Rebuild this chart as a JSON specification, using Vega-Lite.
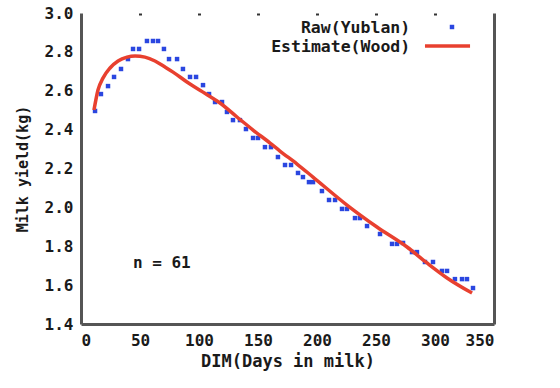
{
  "$schema": "https://vega.github.io/schema/vega-lite/v6.json",
  "width": 413,
  "height": 311,
  "autosize": {"type": "none"},
  "padding": {"left": 81, "top": 13, "right": 66, "bottom": 64},
  "background": "white",
  "config": {"view": {"stroke": null}, "font": "DejaVu Sans Mono"},
  "datasets": {
    "raw": [
      {"dim": 11.9, "yield": 2.496}, {"dim": 16.9, "yield": 2.583}, {"dim": 22.9, "yield": 2.624},
      {"dim": 28.0, "yield": 2.671}, {"dim": 33.9, "yield": 2.712}, {"dim": 39.8, "yield": 2.763},
      {"dim": 44.1, "yield": 2.815}, {"dim": 49.2, "yield": 2.815}, {"dim": 55.9, "yield": 2.856},
      {"dim": 61.0, "yield": 2.856}, {"dim": 65.3, "yield": 2.856}, {"dim": 70.3, "yield": 2.815},
      {"dim": 74.6, "yield": 2.763}, {"dim": 81.4, "yield": 2.763}, {"dim": 86.4, "yield": 2.712},
      {"dim": 92.4, "yield": 2.671}, {"dim": 97.5, "yield": 2.671}, {"dim": 103.4, "yield": 2.629},
      {"dim": 108.5, "yield": 2.583}, {"dim": 113.6, "yield": 2.542}, {"dim": 119.5, "yield": 2.542},
      {"dim": 123.7, "yield": 2.491}, {"dim": 128.8, "yield": 2.449}, {"dim": 134.7, "yield": 2.449},
      {"dim": 139.8, "yield": 2.403}, {"dim": 145.8, "yield": 2.357}, {"dim": 150.0, "yield": 2.357},
      {"dim": 155.9, "yield": 2.310}, {"dim": 161.0, "yield": 2.310}, {"dim": 166.9, "yield": 2.259},
      {"dim": 172.9, "yield": 2.218}, {"dim": 178.0, "yield": 2.218}, {"dim": 183.9, "yield": 2.177},
      {"dim": 188.1, "yield": 2.156}, {"dim": 193.2, "yield": 2.130}, {"dim": 196.6, "yield": 2.130},
      {"dim": 204.2, "yield": 2.084}, {"dim": 210.2, "yield": 2.038}, {"dim": 215.3, "yield": 2.038},
      {"dim": 221.2, "yield": 1.992}, {"dim": 225.4, "yield": 1.992}, {"dim": 232.2, "yield": 1.945},
      {"dim": 236.4, "yield": 1.945}, {"dim": 242.4, "yield": 1.904}, {"dim": 253.4, "yield": 1.863},
      {"dim": 263.6, "yield": 1.812}, {"dim": 267.8, "yield": 1.812}, {"dim": 272.9, "yield": 1.817},
      {"dim": 280.5, "yield": 1.770}, {"dim": 284.7, "yield": 1.770}, {"dim": 291.5, "yield": 1.719},
      {"dim": 298.3, "yield": 1.719}, {"dim": 305.9, "yield": 1.673}, {"dim": 310.2, "yield": 1.673},
      {"dim": 316.9, "yield": 1.631}, {"dim": 322.9, "yield": 1.631}, {"dim": 327.1, "yield": 1.631},
      {"dim": 332.2, "yield": 1.585}
    ],
    "wood": [
      {"dim": 11.0, "yield": 2.501}, {"dim": 14.4, "yield": 2.604}, {"dim": 18.6, "yield": 2.665},
      {"dim": 24.6, "yield": 2.717}, {"dim": 31.4, "yield": 2.753}, {"dim": 39.0, "yield": 2.773},
      {"dim": 45.8, "yield": 2.779}, {"dim": 54.2, "yield": 2.773}, {"dim": 62.7, "yield": 2.753},
      {"dim": 71.2, "yield": 2.722}, {"dim": 78.0, "yield": 2.696}, {"dim": 89.8, "yield": 2.645},
      {"dim": 103.4, "yield": 2.593}, {"dim": 117.8, "yield": 2.537}, {"dim": 132.2, "yield": 2.465},
      {"dim": 145.8, "yield": 2.398}, {"dim": 160.2, "yield": 2.331}, {"dim": 168.6, "yield": 2.290},
      {"dim": 183.1, "yield": 2.223}, {"dim": 196.6, "yield": 2.156}, {"dim": 225.4, "yield": 2.012},
      {"dim": 250.8, "yield": 1.899}, {"dim": 276.3, "yield": 1.796}, {"dim": 293.2, "yield": 1.714},
      {"dim": 310.2, "yield": 1.637}, {"dim": 331.4, "yield": 1.559}
    ]
  },
  "resolve": {"axis": {"x": "independent", "y": "independent"}},
  "layer": [
    {
      "data": {"name": "raw"},
      "mark": {"type": "square", "size": 20, "color": "#2a46e0", "opacity": 1},
      "encoding": {
        "x": {
          "field": "dim", "type": "quantitative",
          "scale": {"domain": [0, 350], "nice": false, "zero": false},
          "axis": {
            "orient": "bottom", "values": [0, 50, 100, 150, 200, 250, 300, 350],
            "labelFont": "DejaVu Sans Mono", "labelFontSize": 16, "labelFontWeight": "bold",
            "labelColor": "#1a1a1a", "labelPadding": 8, "ticks": false, "grid": false,
            "domainColor": "#555", "domainWidth": 3,
            "title": "DIM(Days in milk)", "titleFont": "DejaVu Sans Mono", "titleFontSize": 17,
            "titleFontWeight": "bold", "titleColor": "#1a1a1a", "titlePadding": 5
          }
        },
        "y": {
          "field": "yield", "type": "quantitative",
          "scale": {"domain": [1.4, 3.0], "nice": false, "zero": false},
          "axis": {
            "orient": "left", "values": [1.4, 1.6, 1.8, 2.0, 2.2, 2.4, 2.6, 2.8, 3.0], "format": ".1f",
            "labelFont": "DejaVu Sans Mono", "labelFontSize": 16, "labelFontWeight": "bold",
            "labelColor": "#1a1a1a", "labelPadding": 8, "ticks": false, "grid": false,
            "domainColor": "#555", "domainWidth": 3,
            "title": "Milk yield(kg)", "titleFont": "DejaVu Sans Mono", "titleFontSize": 15,
            "titleFontWeight": "bold", "titleColor": "#1a1a1a", "titlePadding": 14
          }
        }
      }
    },
    {
      "data": {"name": "wood"},
      "mark": {"type": "line", "color": "#e8402f", "strokeWidth": 3.5, "interpolate": "monotone"},
      "encoding": {
        "x": {
          "field": "dim", "type": "quantitative",
          "axis": {"orient": "top", "values": [50, 100, 150, 200, 250, 300], "labels": false,
                   "domain": false, "grid": false, "ticks": true, "tickSize": -2, "tickWidth": 3,
                   "tickColor": "#333", "title": null}
        },
        "y": {
          "field": "yield", "type": "quantitative",
          "axis": {"orient": "right", "labels": false, "ticks": false, "grid": false,
                   "domainColor": "#555", "domainWidth": 3, "title": null}
        }
      }
    },
    {
      "data": {"values": [{}]},
      "mark": {"type": "text", "align": "left", "baseline": "middle", "font": "DejaVu Sans Mono",
               "fontSize": 16, "fontWeight": "bold", "color": "#1a1a1a"},
      "encoding": {
        "x": {"datum": 44, "type": "quantitative", "axis": null},
        "y": {"datum": 1.714, "type": "quantitative", "axis": null},
        "text": {"value": "n = 61"}
      }
    },
    {
      "data": {"values": [{}]},
      "mark": {"type": "text", "align": "right", "baseline": "middle", "font": "DejaVu Sans Mono",
               "fontSize": 16.5, "fontWeight": "bold", "color": "#1a1a1a"},
      "encoding": {
        "x": {"datum": 279, "type": "quantitative", "axis": null},
        "y": {"datum": 2.923, "type": "quantitative", "axis": null},
        "text": {"value": "Raw(Yublan)"}
      }
    },
    {
      "data": {"values": [{}]},
      "mark": {"type": "text", "align": "right", "baseline": "middle", "font": "DejaVu Sans Mono",
               "fontSize": 16.5, "fontWeight": "bold", "color": "#1a1a1a"},
      "encoding": {
        "x": {"datum": 279, "type": "quantitative", "axis": null},
        "y": {"datum": 2.825, "type": "quantitative", "axis": null},
        "text": {"value": "Estimate(Wood)"}
      }
    },
    {
      "data": {"values": [{}]},
      "mark": {"type": "square", "size": 20, "color": "#2a46e0", "opacity": 1},
      "encoding": {
        "x": {"datum": 314.4, "type": "quantitative", "axis": null},
        "y": {"datum": 2.928, "type": "quantitative", "axis": null}
      }
    },
    {
      "data": {"values": [{}]},
      "mark": {"type": "rule", "color": "#e8402f", "strokeWidth": 3.5},
      "encoding": {
        "x": {"datum": 291.5, "type": "quantitative", "axis": null},
        "x2": {"datum": 329.7},
        "y": {"datum": 2.83, "type": "quantitative", "axis": null}
      }
    }
  ]
}
